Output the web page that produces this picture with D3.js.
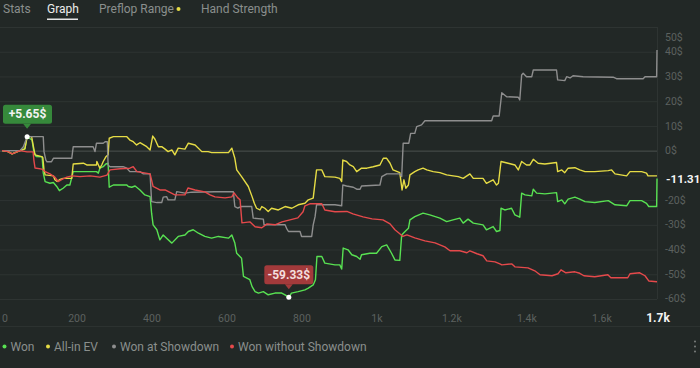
<!DOCTYPE html>
<html lang="en">
  <head>
    <meta charset="utf-8">
    <title>Graph</title>
    <script src="https://d3js.org/d3.v7.min.js"></script>
    <style>
      body { margin: 0; background: #222826; font-family: Roboto, "Noto Sans", sans-serif; }
      svg { display: block; }
    </style>
  </head>

  <body>

  <script>

// Data: [hand number, cumulative $]

  var tabs = ["Stats", "Graph", "Preflop Range", "Hand Strength"];
  var activeTab = "Graph";

  var totalHands = 1747;
  var xTicks = [0, 200, 400, 600, 800, 1000, 1200, 1400, 1600];
  var xTickLabels = ["0", "200", "400", "600", "800", "1k", "1.2k", "1.4k", "1.6k"];
  var yTicks = [50, 40, 30, 20, 10, 0, -10, -20, -30, -40, -50, -60];

  var seriesNames = ["Won", "All-in EV", "Won at Showdown", "Won without Showdown"];
  var seriesColors = ["#58e152", "#e6dc45", "#8e8e8e", "#e5494b"];

  var won = [[0,0],[16,-0.4],[27,-1.3],[35,-0.8],[48,0],[61,0.7],[67,5.65],[80,4.3],[85,-0.5],[91,-2.4],
    [107,-2.5],[110,-9],[115,-12.5],[128,-13.2],[137,-12.9],[146,-14.5],[153,-16.2],[163,-15.2],[173,-13.9],
    [181,-13.9],[190,-8.5],[252,-8.5],[257,-9.1],[261,-7.1],[270,-6.5],[277,-5.4],[283,-5.1],[286,-14.8],
    [297,-13.9],[333,-13.9],[337,-14.5],[346,-14.8],[355,-14.3],[368,-15.9],[381,-17.9],[395,-18.6],
    [399,-25.3],[403,-30],[413,-32],[421,-36.1],[430,-34.1],[439,-35.4],[453,-37.4],[470,-34.7],[488,-34.1],
    [497,-32.7],[510,-32],[524,-33.4],[541,-34.7],[559,-35.4],[577,-34.7],[604,-35.4],[613,-34.1],[621,-37.4],
    [626,-41.5],[639,-43.5],[644,-50.9],[661,-52.2],[667,-55],[675,-57],[684,-57.6],[697,-57],[710,-58.3],
    [728,-57.6],[746,-57.6],[755,-58.3],[765,-59.33],[772,-57.6],[790,-57],[808,-56.3],[817,-55.6],
    [830,-54.3],[836,-52.2],[840,-42.8],[853,-42.8],[861,-45.5],[888,-46.2],[901,-46.2],[906,-47.9],
    [910,-39.4],[923,-40.1],[933,-42.1],[946,-42.8],[955,-43.9],[959,-42.1],[981,-41.5],[999,-41.5],
    [1013,-38.8],[1026,-38.1],[1039,-41.5],[1048,-44.2],[1061,-44.4],[1066,-34.1],[1075,-32.7],[1084,-31.4],
    [1088,-28],[1101,-26.7],[1123,-25.3],[1141,-26],[1168,-27.3],[1186,-28.7],[1203,-28],[1221,-27.3],
    [1230,-29.3],[1243,-27.7],[1257,-29.3],[1283,-30],[1292,-32],[1310,-30.7],[1319,-32.7],[1328,-32.3],
    [1331,-23.3],[1341,-24],[1359,-23.3],[1368,-26],[1381,-26.9],[1386,-17.2],[1395,-17.9],[1413,-18.3],
    [1417,-15.6],[1426,-17.2],[1448,-17.5],[1479,-17],[1482,-20.6],[1493,-19.9],[1501,-21.5],[1510,-19.6],
    [1528,-18.8],[1541,-19.6],[1555,-20.6],[1581,-21],[1617,-20.2],[1635,-21.9],[1666,-22.3],[1675,-20.2],
    [1706,-20.2],[1719,-21.3],[1725,-22.6],[1746,-22.6],[1747,-11.31]];

  var allinEv = [[0,0],[16,-0.4],[27,-1.3],[35,-0.8],[48,0],[61,0.7],[67,5.65],[79,5.65],[83,2.3],[88,-1.7],
    [106,-2.4],[109,-2.9],[112,-7.8],[115,-9.8],[137,-10.2],[141,-11.8],[147,-12.5],[155,-11.6],[163,-11.2],
    [186,-11.2],[190,-5.4],[217,-5.1],[226,-5.8],[252,-5.8],[253,-4.4],[261,-7.1],[266,-5.8],[270,-4.4],
    [277,-2.5],[283,-1.7],[286,5],[297,5.65],[333,5.65],[341,4.3],[350,3.6],[359,2.3],[368,3.2],[386,1.6],
    [395,0.3],[402,5.9],[408,4.6],[417,1.6],[426,1.6],[435,0.6],[443,-0.4],[453,0.3],[461,-1.7],[470,1],
    [488,0.6],[497,3],[515,2.3],[533,-0.4],[550,-0.4],[559,-0.8],[604,-0.8],[613,1],[621,-3.1],[626,-7.8],
    [639,-10.5],[657,-14.5],[667,-18.6],[673,-21.3],[679,-23.3],[688,-24],[693,-22.6],[701,-23.3],
    [710,-24.6],[719,-23.3],[737,-24],[755,-22.6],[773,-23.3],[790,-21.9],[808,-21.3],[817,-19.9],
    [830,-19.2],[839,-7.8],[853,-7.8],[861,-10.5],[888,-10.7],[901,-11.2],[906,-12.5],[909,-3.8],[919,-4.4],
    [928,-5.8],[937,-6.5],[946,-8.5],[959,-7.1],[973,-7.1],[990,-6.5],[1008,-5.8],[1017,-3.1],[1026,-3.1],
    [1035,-5.1],[1043,-7.8],[1061,-8.9],[1067,-15.9],[1072,-11.8],[1077,-15.2],[1084,-13.9],[1088,-9.8],
    [1101,-8.5],[1110,-7.8],[1123,-7.1],[1133,-7.8],[1150,-8.5],[1168,-8.9],[1186,-9.8],[1203,-10.2],
    [1217,-10.5],[1230,-11.2],[1248,-9.4],[1257,-11.2],[1283,-11.2],[1292,-13.2],[1310,-11.8],[1319,-13.9],
    [1324,-13.2],[1331,-4.4],[1350,-5.1],[1368,-5.8],[1377,-7.8],[1386,-4.4],[1399,-5.8],[1408,-5.8],
    [1417,-3.5],[1430,-5.1],[1448,-5.4],[1479,-4.8],[1482,-8.5],[1493,-7.8],[1501,-8.9],[1510,-7.1],
    [1528,-6.9],[1541,-7.8],[1555,-8.5],[1581,-8.5],[1617,-8.1],[1626,-7.8],[1635,-9.4],[1666,-10.2],
    [1675,-8.5],[1706,-8.5],[1719,-9.1],[1723,-10.2],[1747,-10.2]];

  var wonShowdown = [[0,0],[48,0],[57,1.6],[67,5.65],[110,5.65],[112,-0.4],[117,-3.8],[120,-4.5],[132,-4.5],
    [137,-3.1],[186,-3.1],[190,1.6],[243,1.6],[248,-0.4],[252,3],[270,3],[275,3.6],[281,3.6],[283,-5.8],
    [288,-6.5],[323,-6.5],[333,-7.1],[341,-8.5],[368,-8.5],[377,-9.4],[395,-9.4],[399,-20.6],[413,-21],
    [426,-21],[430,-18.8],[439,-18.6],[443,-19.9],[461,-19.9],[466,-16.6],[488,-17.2],[506,-16.8],
    [568,-16.6],[617,-16.6],[621,-22.6],[629,-23.2],[639,-22.6],[666,-22.6],[670,-27.3],[697,-27.7],
    [699,-30],[755,-30],[759,-31.4],[764,-32.7],[795,-32.7],[799,-34.7],[826,-34.7],[830,-30],[835,-26.7],
    [839,-21.9],[888,-21.9],[906,-22.3],[909,-13.9],[919,-14.3],[937,-14.8],[946,-15.6],[955,-15.6],
    [959,-14.3],[1008,-13.9],[1013,-10.5],[1026,-9.4],[1061,-9.4],[1066,-10.5],[1068,-3.8],[1070,3],
    [1085,3],[1090,7],[1101,7],[1106,9.7],[1119,10.4],[1128,12.1],[1306,12.1],[1310,14],[1326,14],
    [1333,23.4],[1346,21.8],[1377,21.6],[1381,20.5],[1386,30.6],[1390,31.3],[1399,29.9],[1413,29.9],
    [1417,32.6],[1479,32.6],[1482,28.6],[1501,28.3],[1506,29.9],[1515,29.4],[1523,30.3],[1550,29.9],
    [1630,29.7],[1639,29.1],[1710,29.1],[1715,29.9],[1746,29.9],[1747,40.7]];

  var wonNoShowdown = [[0,0],[16,-0.4],[27,-1.3],[35,-0.8],[48,0],[67,-0.5],[83,-0.5],[85,-3.8],[88,-7],
    [107,-7.5],[115,-8.5],[128,-9.4],[141,-10.7],[150,-12.5],[160,-11.6],[173,-10.7],[187,-10.2],
    [208,-10.5],[235,-10.2],[261,-10.7],[280,-9.9],[288,-7.8],[315,-7.3],[341,-7.1],[350,-6.5],[360,-8.5],
    [395,-9.4],[403,-14.5],[421,-15.9],[435,-15.9],[461,-17.9],[488,-17.9],[496,-15.1],[515,-15.9],
    [541,-16.7],[555,-17.9],[568,-18.7],[595,-19.1],[613,-18.7],[619,-17.1],[629,-19.1],[635,-19.9],
    [640,-29.2],[661,-28.8],[675,-30.8],[693,-31.2],[707,-29.6],[728,-30],[747,-28.8],[768,-28],
    [789,-27.2],[803,-24.7],[808,-22.3],[821,-21.5],[853,-21.5],[861,-24],[888,-24.7],[920,-24.6],
    [936,-25.6],[963,-26.8],[987,-27.6],[1016,-28],[1035,-29.6],[1048,-32],[1061,-33.6],[1069,-34.7],
    [1080,-34.1],[1101,-35.3],[1128,-36.5],[1155,-37.3],[1181,-38.9],[1195,-40.5],[1221,-40.5],
    [1240,-41.3],[1248,-40.5],[1267,-41.7],[1283,-42.5],[1293,-44.6],[1315,-45],[1328,-45.8],[1333,-46.2],
    [1360,-45.8],[1368,-47],[1403,-47.4],[1421,-48.6],[1435,-50.2],[1467,-50.6],[1483,-49.8],[1491,-48.2],
    [1504,-49.4],[1528,-49],[1541,-49.6],[1552,-50.6],[1581,-51],[1616,-50.2],[1624,-51.4],[1669,-51.4],
    [1675,-49.8],[1701,-49.4],[1715,-50.6],[1725,-52.7],[1747,-53]];

  var series = [won, allinEv, wonShowdown, wonNoShowdown];

// Layout

  var w = 700;
  var h = 368;
  var plot = {left: 2, right: 657, top: 27, bottom: 299};

  var svg = d3.select("body")
    .append("svg")
      .attr("width", w)
      .attr("height", h);

  var xScale = d3.scaleLinear()
      .domain([0, totalHands])
      .range([plot.left, plot.right]);

  var yScale = d3.scaleLinear()
      .domain([-60, 50])
      .range([plot.bottom, plot.top]);

  var last = won[won.length - 1];

// Tabs

  var tabX = [3, 47, 99, 201];
  svg.selectAll("text.tab")
      .data(tabs)
    .enter().append("text")
      .attr("class", "tab")
      .attr("x", (d, i) => tabX[i])
      .attr("y", 13)
      .attr("font-size", 12)
      .attr("fill", d => d == activeTab ? "#ececec" : "#8a8f8d")
      .text(d => d);

  svg.append("rect")
      .attr("x", 47).attr("y", 18.5)
      .attr("width", 31).attr("height", 1.5)
      .attr("fill", "#e6e6e6");

  svg.append("circle")
      .attr("cx", 178.5).attr("cy", 9)
      .attr("r", 2)
      .attr("fill", "#e6dc45");

// Grid

  svg.append("g").selectAll("line")
      .data(yTicks)
    .enter().append("line")
      .attr("x1", 0)
      .attr("x2", plot.right)
      .attr("y1", d => yScale(d) + 0.5)
      .attr("y2", d => yScale(d) + 0.5)
      .attr("stroke", d => d == 0 ? "#4b504e" : "#2e3432")
      .attr("stroke-width", 1);

  svg.append("line")
      .attr("x1", plot.right + 0.5).attr("x2", plot.right + 0.5)
      .attr("y1", plot.top).attr("y2", plot.bottom)
      .attr("stroke", "#2e3432");

  // tick labels that would collide with the last-value label are hidden
  svg.append("g").selectAll("text")
      .data(yTicks.filter(d => Math.abs(yScale(d) - yScale(last[1])) > 8))
    .enter().append("text")
      .attr("x", 665)
      .attr("y", d => Math.min(Math.max(yScale(d), 37), 298))
      .attr("dy", "0.35em")
      .attr("font-size", 10.5)
      .attr("fill", "#5c615f")
      .text(d => d + "$");

  svg.append("g").selectAll("text")
      .data(xTicks)
    .enter().append("text")
      .attr("x", d => Math.max(xScale(d), 5))
      .attr("y", 318)
      .attr("dy", "0.35em")
      .attr("text-anchor", "middle")
      .attr("font-size", 10.5)
      .attr("fill", "#5c615f")
      .text((d, i) => xTickLabels[i]);

  svg.append("text")
      .attr("x", xScale(totalHands) + 1)
      .attr("y", 318)
      .attr("dy", "0.35em")
      .attr("text-anchor", "middle")
      .attr("font-size", 12)
      .attr("font-weight", "bold")
      .attr("fill", "#f4f4f4")
      .text((totalHands / 1000).toFixed(1) + "k");

// Lines

  var line = d3.line()
      .x(d => xScale(d[0]))
      .y(d => yScale(d[1]));

  svg.append("g").selectAll("path")
      .data(series)
    .enter().append("path")
      .attr("d", line)
      .attr("fill", "none")
      .attr("stroke", (d, i) => seriesColors[i])
      .attr("stroke-width", 1.4)
      .attr("stroke-linejoin", "round");

// Final value label

  svg.append("text")
      .attr("x", 666)
      .attr("y", yScale(last[1]))
      .attr("dy", "0.35em")
      .attr("font-size", 11.5)
      .attr("font-weight", "bold")
      .attr("fill", "#f4f4f4")
      .text(last[1].toFixed(2) + "$");

// Max / min callouts

  function callout(pt, label, fill, textFill) {
    var cx = xScale(pt[0]), cy = yScale(pt[1]);
    var g = svg.append("g");
    var bw = 49, bh = 19;
    var bx = Math.max(cx - bw / 2, 3);
    var by = cy - 32;
    g.append("rect")
        .attr("x", bx).attr("y", by)
        .attr("width", bw).attr("height", bh)
        .attr("rx", 2.5)
        .attr("fill", fill);
    g.append("path")
        .attr("d", `M${cx - 4},${by + bh} L${cx},${by + bh + 5} L${cx + 4},${by + bh} Z`)
        .attr("fill", fill);
    g.append("text")
        .attr("x", bx + bw / 2).attr("y", by + bh / 2)
        .attr("dy", "0.36em")
        .attr("text-anchor", "middle")
        .attr("font-size", 12)
        .attr("font-weight", "bold")
        .attr("fill", textFill)
        .text(label);
    g.append("circle")
        .attr("cx", cx).attr("cy", cy)
        .attr("r", 2.5)
        .attr("fill", "#ffffff");
  }

  var maxPt = won.reduce((a, b) => b[1] > a[1] ? b : a);
  var minPt = won.reduce((a, b) => b[1] < a[1] ? b : a);
  callout(maxPt, "+" + maxPt[1].toFixed(2) + "$", "#36893b", "#f2f2f2");
  callout(minPt, minPt[1].toFixed(2) + "$", "#a33a3b", "#f3dede");

// Legend

  svg.append("line")
      .attr("x1", 0).attr("x2", w)
      .attr("y1", 326.5).attr("y2", 326.5)
      .attr("stroke", "#2c3230");

  var legX = [4.5, 48, 114, 232];
  var leg = svg.append("g").selectAll("g")
      .data(seriesNames)
    .enter().append("g")
      .attr("transform", (d, i) => `translate(${legX[i]}, 346.5)`);

  leg.append("circle")
      .attr("r", 2)
      .attr("fill", (d, i) => seriesColors[i]);

  leg.append("text")
      .attr("x", 6)
      .attr("dy", "0.35em")
      .attr("font-size", 12)
      .attr("fill", "#8a8f8d")
      .text(d => d);

  svg.append("g").selectAll("circle")
      .data([-5, 0, 5])
    .enter().append("circle")
      .attr("cx", 695)
      .attr("cy", d => 346.5 + d)
      .attr("r", 1)
      .attr("fill", "#7a7f7d");

  </script>

  </body>

</html>
